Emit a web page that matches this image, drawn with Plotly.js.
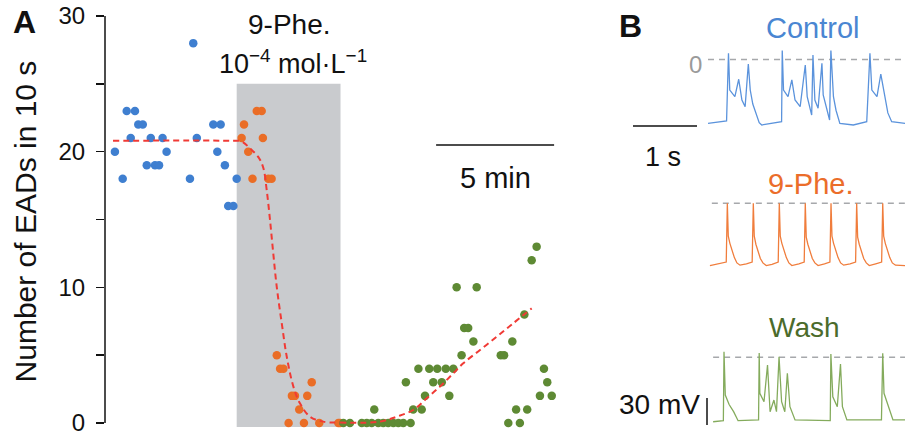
<!DOCTYPE html>
<html><head><meta charset="utf-8">
<script src="https://cdn.plot.ly/plotly-3.0.1.min.js"></script>
<style>html,body{margin:0;padding:0;background:#fff}#chart{width:905px;height:431px}</style>
</head><body><div id="chart"></div>
<script>
// ---------- Panel A: number of EADs in 10 s vs time (min) ----------
const controlT = [0.42,0.75,0.92,1.09,1.27,1.41,1.60,1.77,1.94,2.12,2.29,2.44,2.61,3.60,3.74,3.89,4.59,4.76,4.90,5.08,5.22,5.44,5.58];
const controlN = [20,18,23,21,23,22,22,19,21,19,19,21,20,18,28,21,22,20,22,19,16,16,18];

const pheT = [5.79,5.89,6.07,6.25,6.43,6.64,6.69,6.92,7.06,7.28,7.42,7.56,7.78,7.92,8.05,8.23,8.43,8.57,8.76,9.08,9.89,9.96];
const pheN = [21,22,20,18,23,23,21,18,18,5,4,4,0,2,2,1,0,2,3,0,0,0];

const washT = [10.10,10.38,10.88,11.09,11.30,11.41,11.58,11.79,12.00,12.22,12.43,12.64,12.75,12.95,13.06,13.28,13.42,13.56,13.74,13.91,14.08,14.27,14.44,14.59,14.76,14.90,15.11,15.22,15.39,15.61,15.75,16.77,16.91,17.09,17.26,17.42,17.58,17.77,17.89,18.08,18.29,18.43,18.60,18.74,18.93];
const washN = [0,0,0,0,0,1,0,0,0,0,0,0,3,0,1,4,1,2,4,3,4,3,4,2,4,10,5,7,7,6,10,5,5,0,6,1,0,8,1,12,13,2,4,3,2];

// fitted curves
const fit1T = [0.34,5.30,5.79,6.14,6.50,6.71,6.85,6.99,7.13,7.28,7.49,7.70,7.98,8.26,8.69,9.25,9.96];
const fit1N = [20.8,20.8,20.75,20.25,19.6,18.8,17.2,15.0,12.5,10.0,7.35,4.9,2.7,1.45,0.46,0.1,0.03];
const fit2T = [9.96,11.65,12.36,13.06,13.63,14.19,14.76,15.18,15.89,16.60,17.30,18.08];
const fit2N = [0.03,0.1,0.46,0.96,1.82,2.68,3.66,4.4,5.38,6.36,7.35,8.45];

// drug application window (min) and scale bar (min)
const drugWindow = [5.58, 9.98];
const drugTop = 25;
const scaleBarMin = [14.03, 19.03];
const scaleBarY = 20.5;

const yTickVals = [0,5,10,15,20,25,30];
const yTickText = ['0','','10','','20','','30'];

// ---------- Panel B: membrane potential traces (s, mV) ----------
const ctrlT = [0.00,0.29,0.32,0.34,0.42,0.48,0.53,0.58,0.63,0.66,0.70,0.76,0.80,0.84,1.15,1.16,1.18,1.25,1.31,1.36,1.44,1.52,1.55,1.62,1.64,1.67,1.72,1.78,1.80,1.90,1.92,1.96,2.00,2.06,2.27,2.48,2.53,2.56,2.64,2.70,2.77,2.81,2.87,3.08];
const ctrlV = [-71.7,-69.1,7.0,-34.3,-41.8,-22.2,-45.5,-53.0,-5.1,-34.3,-50.0,-64.3,-71.0,-73.6,-69.9,10.7,-34.3,-41.8,-23.0,-45.5,-53.0,-6.2,-41.8,-62.4,5.1,-45.5,-54.8,-4.3,-39.9,-68.0,10.7,-41.8,-57.0,-71.7,-73.6,-69.9,7.0,-34.3,-41.8,-16.3,-45.5,-60.0,-69.9,-71.7];

const pheTrT = [0.03,0.15,0.285,0.302,0.317,0.342,0.372,0.412,0.452,0.50,0.60,0.69,
                0.708,0.723,0.748,0.778,0.818,0.858,0.91,1.00,1.097,
                1.114,1.129,1.154,1.184,1.224,1.264,1.31,1.42,1.503,
                1.520,1.535,1.560,1.590,1.630,1.670,1.72,1.82,1.905,
                1.922,1.937,1.962,1.992,2.032,2.072,2.12,2.22,2.306,
                2.323,2.338,2.363,2.393,2.433,2.473,2.52,2.62,2.713,
                2.730,2.745,2.770,2.800,2.840,2.880,2.93,3.08];
const pheTrV = [-70,-68,-66,0,-37,-45,-52,-61,-67,-69.5,-68,-66,
                0,-37,-46,-53,-62,-67,-70,-68.5,-66,
                0,-37,-45,-52,-61,-67,-70,-68,-66,
                0,-38,-46,-53,-62,-67,-70,-68,-66,
                0,-37,-45,-52,-61,-67,-69.5,-68,-66,
                0,-38,-46,-53,-62,-67,-70,-68,-66,
                0,-37,-45,-52,-61,-67,-69.5,-70];

const washTrT = [0.08,0.24,0.25,0.27,0.33,0.40,0.47,0.76,0.79,0.80,0.81,0.875,0.93,0.97,1.03,1.07,1.11,1.15,1.20,1.24,1.28,1.36,1.91,1.92,1.95,2.02,2.07,2.10,2.17,2.71,2.73,2.75,2.84,2.89,3.08];
const washTrV = [-72.4,-71.2,6.3,-42.4,-53.0,-61.1,-71.2,-70.4,-70.4,4.8,-40.4,-49.9,-8.7,-61.1,-48.0,-61.1,0.7,-49.9,-61.1,-18.0,-55.5,-70.4,-71.2,3.7,-44.3,-55.5,-7.5,-55.5,-70.4,-70.4,4.5,-40.4,-61.1,-70.4,-70.4];

// ---------- layout helpers ----------
const W = 905, H = 431;
const PX = x => x / W;
const PY = y => 1 - y / H;

const cBlue = '#3f7fd0', cOrange = '#ea6d26', cGreen = '#5e8a34';

const dotStyle = c => ({size: 8.5, color: c, line: {width: 0}});
const traces = [
  {x: controlT, y: controlN, type: 'scatter', mode: 'markers', marker: dotStyle(cBlue), cliponaxis: false, xaxis: 'x', yaxis: 'y'},
  {x: pheT, y: pheN, type: 'scatter', mode: 'markers', marker: dotStyle(cOrange), cliponaxis: false, xaxis: 'x', yaxis: 'y'},
  {x: washT, y: washN, type: 'scatter', mode: 'markers', marker: dotStyle(cGreen), cliponaxis: false, xaxis: 'x', yaxis: 'y'},
  {x: fit1T, y: fit1N, type: 'scatter', mode: 'lines', line: {color: '#f03a35', width: 2, dash: '6px,4px', shape: 'spline'}, cliponaxis: false, xaxis: 'x', yaxis: 'y'},
  {x: fit2T, y: fit2N, type: 'scatter', mode: 'lines', line: {color: '#f03a35', width: 2, dash: '6px,4px', shape: 'spline'}, cliponaxis: false, xaxis: 'x', yaxis: 'y'},
  {x: ctrlT, y: ctrlV, type: 'scatter', mode: 'lines', line: {color: '#5b93dc', width: 1.3}, xaxis: 'x2', yaxis: 'y2'},
  {x: pheTrT, y: pheTrV, type: 'scatter', mode: 'lines', line: {color: '#f07d3c', width: 1.3}, xaxis: 'x3', yaxis: 'y3'},
  {x: washTrT, y: washTrV, type: 'scatter', mode: 'lines', line: {color: '#84ab5c', width: 1.3}, xaxis: 'x4', yaxis: 'y4'}
];

const hidden = {visible: true, showline: false, showgrid: false, zeroline: false, showticklabels: false, ticks: '', fixedrange: true};
const bX = [PX(708), 1];
const bRange = [0, 3.078];
const vRange = [-80, 10];
// 0 mV rows at 59.5, 203.3, 357.3 px; 0.89 px per mV
const bDom = zeroPx => [PY(zeroPx + 80 * 0.89), PY(zeroPx - 10 * 0.89)];

const layout = {
  width: W, height: H,
  margin: {l: 0, r: 0, t: 0, b: 0},
  paper_bgcolor: '#fff', plot_bgcolor: 'rgba(0,0,0,0)',
  showlegend: false,
  font: {family: 'Liberation Sans, Arial, sans-serif', color: '#111'},
  xaxis: Object.assign({}, hidden, {domain: [PX(105), PX(560)], range: [0, 19.28]}),
  yaxis: {domain: [PY(427.07), PY(16)], range: [-0.3, 30], showline: false, showgrid: false, zeroline: false,
          tickmode: 'array', tickvals: yTickVals, ticktext: yTickText, ticks: 'outside', ticklen: 8, tickwidth: 1.5, tickcolor: '#111',
          ticklabelstandoff: 6, ticklabeloverflow: 'allow', tickfont: {size: 24, color: '#111'},
          title: {text: 'Number of EADs in 10 s', font: {size: 30, color: '#111'}, standoff: 12}, fixedrange: true},
  xaxis2: Object.assign({}, hidden, {domain: bX, range: bRange, anchor: 'y2'}),
  yaxis2: Object.assign({}, hidden, {domain: bDom(59.5), range: vRange, anchor: 'x2'}),
  xaxis3: Object.assign({}, hidden, {domain: bX, range: bRange, anchor: 'y3'}),
  yaxis3: Object.assign({}, hidden, {domain: bDom(203.3), range: vRange, anchor: 'x3'}),
  xaxis4: Object.assign({}, hidden, {domain: bX, range: bRange, anchor: 'y4'}),
  yaxis4: Object.assign({}, hidden, {domain: bDom(357.3), range: vRange, anchor: 'x4'}),
  shapes: [
    {type: 'rect', xref: 'x', yref: 'y', x0: drugWindow[0], x1: drugWindow[1], y0: -0.3, y1: drugTop, fillcolor: '#c9cbce', line: {width: 0}, layer: 'below'},
    {type: 'line', xref: 'paper', yref: 'y', x0: PX(105), x1: PX(105), y0: 0, y1: 30, line: {color: '#111', width: 1.5}},
    {type: 'line', xref: 'x', yref: 'y', x0: scaleBarMin[0], x1: scaleBarMin[1], y0: scaleBarY, y1: scaleBarY, line: {color: '#111', width: 1.5}},
    {type: 'line', xref: 'x2', yref: 'y2', x0: 0, x1: 3.078, y0: 0, y1: 0, line: {color: '#a6a8ab', width: 1.5, dash: '6px,5px'}, layer: 'below'},
    {type: 'line', xref: 'x3', yref: 'y3', x0: 0.06, x1: 3.078, y0: 0, y1: 0, line: {color: '#a6a8ab', width: 1.5, dash: '6px,5px'}, layer: 'below'},
    {type: 'line', xref: 'x4', yref: 'y4', x0: 0.08, x1: 3.078, y0: 0, y1: 0, line: {color: '#a6a8ab', width: 1.5, dash: '6px,5px'}, layer: 'below'},
    // 1 s scale bar and 30 mV scale bar
    {type: 'line', xref: 'paper', yref: 'paper', x0: PX(633), x1: PX(697), y0: PY(126), y1: PY(126), line: {color: '#111', width: 1.5}},
    {type: 'line', xref: 'paper', yref: 'paper', x0: PX(707), x1: PX(707), y0: PY(398), y1: PY(425), line: {color: '#111', width: 1.5}}
  ],
  annotations: [
    {text: '<b>A</b>', x: PX(24), y: PY(22), size: 32},
    {text: '<b>B</b>', x: PX(630), y: PY(26), size: 32},
    {text: '9-Phe.', x: PX(289), y: PY(24), size: 28},
    {text: '10<sup>\u22124</sup> mol\u00b7L<sup>\u22121</sup>', x: PX(293), y: PY(62), size: 27},
    {text: '5 min', x: PX(495), y: PY(178), size: 29},
    {text: 'Control', x: PX(813), y: PY(28), size: 29, color: '#4a86d2'},
    {text: '0', x: PX(695), y: PY(64), size: 24, color: '#9a9a9a'},
    {text: '1 s', x: PX(663), y: PY(157), size: 27},
    {text: '9-Phe.', x: PX(810), y: PY(184), size: 29, color: '#eb6d2a'},
    {text: 'Wash', x: PX(804), y: PY(327), size: 28, color: '#4b6b2b'},
    {text: '30 mV', x: PX(659), y: PY(404), size: 28}
  ].map(a => ({text: a.text, x: a.x, y: a.y, xref: 'paper', yref: 'paper', showarrow: false,
               xanchor: 'center', yanchor: 'middle', font: {size: a.size, color: a.color || '#111'}}))
};

Plotly.newPlot('chart', traces, layout, {displayModeBar: false, staticPlot: true});
</script>
</body></html>
